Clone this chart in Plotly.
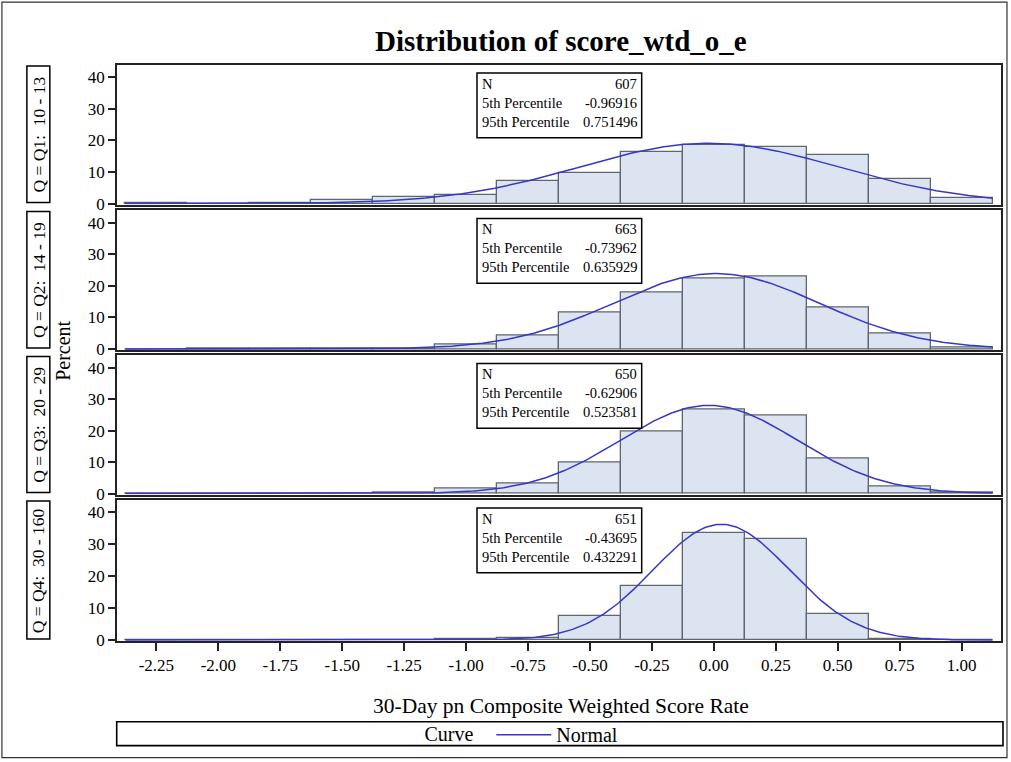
import numpy as np
import plotly.graph_objects as go

# ---------------- data ----------------
bin_centers = [-2.25, -2.00, -1.75, -1.50, -1.25, -1.00, -0.75, -0.50, -0.25, 0.00, 0.25, 0.50, 0.75, 1.00]
q1_pct = [0.3, 0.0, 0.3, 1.0, 2.0, 2.8, 7.0, 9.7, 16.3, 18.6, 17.8, 15.3, 7.9, 1.8]
q2_pct = [0.0, 0.15, 0.15, 0.15, 0.3, 1.6, 4.4, 11.6, 17.8, 22.5, 22.9, 13.2, 4.8, 0.5]
q3_pct = [0.0, 0.0, 0.0, 0.15, 0.3, 1.5, 3.3, 10.0, 19.6, 26.6, 24.9, 11.1, 2.3, 0.3]
q4_pct = [0.0, 0.0, 0.0, 0.0, 0.15, 0.3, 0.8, 7.4, 17.0, 33.7, 31.8, 8.1, 0.2, 0.0]
panel_labels = ["Q = Q1:  10 - 13", "Q = Q2:  14 - 19", "Q = Q3:  20 - 29", "Q = Q4:  30 - 160"]
normal_mu = [-0.02, 0.01, -0.02, 0.03]
normal_sigma = [0.522, 0.417, 0.356, 0.275]
stat_n = ["607", "663", "650", "651"]
stat_p5 = ["-0.96916", "-0.73962", "-0.62906", "-0.43695"]
stat_p95 = ["0.751496", "0.635929", "0.523581", "0.432291"]
x_ticks = [-2.25, -2.00, -1.75, -1.50, -1.25, -1.00, -0.75, -0.50, -0.25, 0.00, 0.25, 0.50, 0.75, 1.00]
x_tick_text = ["-2.25", "-2.00", "-1.75", "-1.50", "-1.25", "-1.00", "-0.75", "-0.50", "-0.25", "0.00", "0.25", "0.50", "0.75", "1.00"]
y_ticks = [0, 10, 20, 30, 40]
bin_width = 0.25

series = [q1_pct, q2_pct, q3_pct, q4_pct]

# ---------------- layout geometry (pixels) ----------------
W, H = 1011, 762
PL, PR = 117.3, 1003.0          # plot area left/right
PT, PB = 65.0, 643.0            # plot area top/bottom
PW, PH = PR - PL, PB - PT
panel_px = [(65, 205), (211, 351), (356.5, 496), (501.5, 643)]

def py(p):  # pixel y -> paper y
    return (PB - p) / PH

def px(p):  # pixel x -> paper x
    return (p - PL) / PW

FONT = "Liberation Serif, Times New Roman, serif"
BAR_FILL = "#dbe4f0"
BAR_LINE = "#5f666e"
CURVE = "#3636c8"

fig = go.Figure()
layout = dict(
    width=W, height=H,
    margin=dict(l=PL, r=W - PR, t=PT, b=H - PB),
    paper_bgcolor="white", plot_bgcolor="white",
    font=dict(family=FONT, size=17, color="black"),
    bargap=0, barmode="overlay",
    showlegend=True,
)

shapes = []
annotations = []

xgrid = np.linspace(-2.375, 1.125, 400)

for i in range(4):
    n = i + 1
    xa = "x" if n == 1 else f"x{n}"
    ya = "y" if n == 1 else f"y{n}"
    top, bot = panel_px[i]
    fig.add_trace(go.Bar(
        x=bin_centers, y=series[i], width=bin_width,
        marker=dict(color=BAR_FILL, line=dict(color=BAR_LINE, width=1.3)),
        xaxis=xa, yaxis=ya, showlegend=False, hoverinfo="x+y",
    ))
    mu, sd = normal_mu[i], normal_sigma[i]
    curve = 100 * bin_width * np.exp(-0.5 * ((xgrid - mu) / sd) ** 2) / (sd * np.sqrt(2 * np.pi))
    fig.add_trace(go.Scatter(
        x=xgrid, y=curve, mode="lines", line=dict(color=CURVE, width=1.5),
        name="Normal", xaxis=xa, yaxis=ya, showlegend=(i == 0),
    ))
    xkey = "xaxis" if n == 1 else f"xaxis{n}"
    ykey = "yaxis" if n == 1 else f"yaxis{n}"
    last = (i == 3)
    layout[xkey] = dict(
        domain=[0, 1], anchor=ya, range=[-2.409, 1.159],
        showline=True, mirror=True, linecolor="#222", linewidth=1.6,
        showgrid=False, zeroline=False,
        tickvals=x_ticks, ticktext=x_tick_text,
        ticks="outside" if last else "", ticklen=8, tickwidth=1.5, tickcolor="#222",
        showticklabels=last, tickfont=dict(size=17, family=FONT),
    )
    if n > 1:
        layout[xkey]["matches"] = "x"
    layout[ykey] = dict(
        domain=[py(bot), py(top)], anchor=xa, range=[-0.3, 43.9],
        showline=True, mirror=True, linecolor="#222", linewidth=1.6,
        showgrid=False, zeroline=False,
        tickvals=y_ticks, ticks="outside", ticklen=7, tickwidth=1.5, tickcolor="#222",
        tickfont=dict(size=17, family=FONT),
    )

    # stats inset box
    btop = top + 8
    bbot = top + 73
    shapes.append(dict(type="rect", xref="paper", yref="paper",
                       x0=px(478), x1=px(643), y0=py(bbot), y1=py(btop),
                       line=dict(color="black", width=1.5), fillcolor="white", layer="above"))
    labels = ["N", "5th Percentile", "95th Percentile"]
    values = [stat_n[i], stat_p5[i], stat_p95[i]]
    for r in range(3):
        yy = py(top + 19 + 19 * r)
        annotations.append(dict(xref="paper", yref="paper", x=px(481), y=yy, text=labels[r],
                                showarrow=False, xanchor="left", yanchor="middle",
                                font=dict(size=14.5, family=FONT)))
        annotations.append(dict(xref="paper", yref="paper", x=px(640), y=yy, text=values[r],
                                showarrow=False, xanchor="right", yanchor="middle",
                                font=dict(size=14.5, family=FONT)))

    # strip label box on the left
    shapes.append(dict(type="rect", xref="paper", yref="paper",
                       x0=px(27), x1=px(50), y0=py(bot - 2), y1=py(top + 1),
                       line=dict(color="black", width=1.5)))
    annotations.append(dict(xref="paper", yref="paper", x=px(39), y=py((top + bot) / 2),
                            text=panel_labels[i].replace("  ", "\u00a0 "), textangle=-90,
                            showarrow=False, xanchor="center", yanchor="middle",
                            font=dict(size=17.5, family=FONT)))

# y axis title
annotations.append(dict(xref="paper", yref="paper", x=px(63), y=py(352), text="Percent",
                        textangle=-90, showarrow=False, xanchor="center", yanchor="middle",
                        font=dict(size=20, family=FONT)))
# x axis title
annotations.append(dict(xref="paper", yref="paper", x=px(562), y=py(708),
                        text="30-Day pn Composite Weighted Score Rate", showarrow=False,
                        xanchor="center", yanchor="middle", font=dict(size=21.5, family=FONT)))
# legend frame
shapes.append(dict(type="rect", xref="paper", yref="paper",
                   x0=px(117), x1=px(1005), y0=py(748), y1=py(724),
                   line=dict(color="black", width=1.6)))
# outer figure border
shapes.append(dict(type="rect", xref="paper", yref="paper",
                   x0=px(2), x1=px(1009), y0=py(760), y1=py(2),
                   line=dict(color="#333", width=1.2)))

layout["shapes"] = shapes
layout["annotations"] = annotations
layout["title"] = dict(text="<b>Distribution of score_wtd_o_e</b>", x=px(562), xref="paper",
                       xanchor="center", y=1 - 41 / H, yanchor="middle",
                       font=dict(size=29, family=FONT))
layout["legend"] = dict(orientation="h", x=px(524), xanchor="center", y=py(737), yanchor="middle",
                        title=dict(text="Curve  ", side="left", font=dict(size=20, family=FONT)),
                        font=dict(size=20, family=FONT), bgcolor="rgba(0,0,0,0)",
                        itemwidth=55)

fig.update_layout(**layout)
fig.write_html("out.html", config={"displayModeBar": False},
               post_script="document.body.style.margin='0';document.body.style.overflow='hidden';")
